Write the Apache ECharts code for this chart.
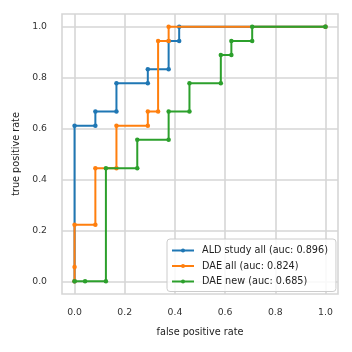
<!DOCTYPE html>
<html><head><meta charset="utf-8">
<script src="https://cdn.jsdelivr.net/npm/echarts@6/dist/echarts.min.js"></script>
<style>html,body{margin:0;padding:0;background:#fff}#c{width:352px;height:352px}</style>
</head><body><div id="c"></div>
<script>
const seriesNames = ['ALD study all (auc: 0.896)', 'DAE all (auc: 0.824)', 'DAE new (auc: 0.685)'];
const aldFpr = [0, 0, 0.083, 0.083, 0.167, 0.167, 0.292, 0.292, 0.375, 0.375, 0.417, 0.417, 1.0];
const aldTpr = [0, 0.611, 0.611, 0.667, 0.667, 0.778, 0.778, 0.833, 0.833, 0.944, 0.944, 1.0, 1.0];
const daeAllFpr = [0, 0, 0, 0.083, 0.083, 0.167, 0.167, 0.292, 0.292, 0.333, 0.333, 0.375, 0.375, 1.0];
const daeAllTpr = [0, 0.056, 0.222, 0.222, 0.444, 0.444, 0.611, 0.611, 0.667, 0.667, 0.944, 0.944, 1.0, 1.0];
const daeNewFpr = [0, 0.042, 0.125, 0.125, 0.25, 0.25, 0.375, 0.375, 0.458, 0.458, 0.583, 0.583, 0.625, 0.625, 0.708, 0.708, 1.0];
const daeNewTpr = [0, 0, 0, 0.444, 0.444, 0.556, 0.556, 0.667, 0.667, 0.778, 0.778, 0.889, 0.889, 0.944, 0.944, 1.0, 1.0];
const tickValues = [0, 0.2, 0.4, 0.6, 0.8, 1.0];
const colors = ['#1f77b4', '#ff7f0e', '#2ca02c'];

const pairs = (xs, ys) => xs.map((x, i) => [x, ys[i]]);
const allData = [pairs(aldFpr, aldTpr), pairs(daeAllFpr, daeAllTpr), pairs(daeNewFpr, daeNewTpr)];

const font = 'DejaVu Sans';
const gridColor = '#d6d6d6';
function axis(name, isY) {
  return {
    type: 'value', min: -0.05, max: 1.05,
    name: name, nameLocation: 'middle', nameGap: isY ? 35 : 33,
    nameTextStyle: { fontFamily: font, fontSize: 9.7, color: '#222' },
    axisLine: { show: false },
    axisTick: { show: false, customValues: tickValues },
    axisLabel: { customValues: tickValues, margin: isY ? 15 : 14, fontFamily: font, fontSize: 9.3, color: '#333',
      formatter: v => v.toFixed(1) },
    splitLine: { show: true, lineStyle: { color: gridColor, width: 1.6 } }
  };
}
const chart = echarts.init(document.getElementById('c'), null, { renderer: 'canvas' });
chart.setOption({
  animation: false,
  color: colors,
  grid: { left: 62, right: 14, top: 14, bottom: 58, show: true, borderColor: gridColor, borderWidth: 1.6, backgroundColor: 'transparent' },
  xAxis: axis('false positive rate', false),
  yAxis: axis('true positive rate', true),
  legend: {
    orient: 'vertical', left: 167, top: 239,
    width: 166,
    padding: [6.5, 8, 5, 4],
    itemGap: 5.5, itemWidth: 22, itemHeight: 5,
    backgroundColor: 'rgba(255,255,255,0.85)', borderColor: '#cccccc', borderWidth: 1, borderRadius: 3,
    textStyle: { fontFamily: font, fontSize: 9.7, color: '#222', padding: [0, 0, 0, 3] },
    data: seriesNames
  },
  series: seriesNames.map((n, i) => ({
    name: n, type: 'line', data: allData[i],
    symbol: 'circle', symbolSize: 4.5, showSymbol: true,
    lineStyle: { width: 2, color: colors[i] },
    itemStyle: { color: colors[i] },
    z: 2 + i
  }))
});
</script></body></html>
